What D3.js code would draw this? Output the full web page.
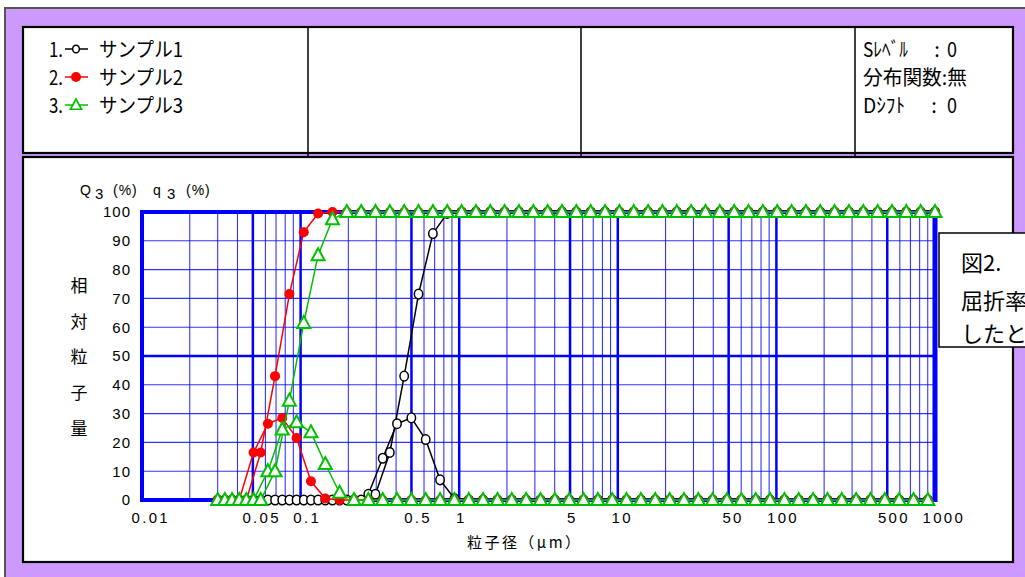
<!DOCTYPE html>
<html><head><meta charset="utf-8">
<script src="https://cdn.jsdelivr.net/npm/d3@7"></script>
<style>body{margin:0;background:#fff;overflow:hidden} svg{display:block}</style>
</head><body><svg id="c" width="1025" height="577"></svg>
<script>
// channel boundaries (µm) – cumulative Q3 is plotted here
const sizes = [0.03,0.03695,0.04550,0.05604,0.06902,0.08500,0.1047,0.1289,0.1588,0.1956,
  0.2408,0.2966,0.3653,0.4499,0.5541,0.6824,0.8404,1.035,1.275,1.570,
  1.933,2.381,2.932,3.611,4.448,5.477,6.746,8.308,10.23,12.60,
  15.52,19.11,23.54,28.99,35.70,43.97,54.15,66.69,82.13,101.1,
  124.6,153.4,188.9,232.7,286.6,352.9,434.7,535.3,659.3,811.9,1000];
// channel centres (µm) – frequency q3 is plotted here
const midSizes = [0.03329,0.04100,0.05050,0.06219,0.07660,0.09433,0.1162,0.1431,0.1762,0.2170,
  0.2673,0.3292,0.4054,0.4993,0.6149,0.7573,0.9326,1.149,1.414,1.742,
  2.145,2.642,3.254,4.008,4.936,6.079,7.486,9.220,11.35,13.98,
  17.22,21.21,26.12,32.17,39.62,48.79,60.09,74.01,91.15,112.3,
  138.2,170.3,209.7,258.2,318.0,391.7,482.4,594.1,731.7,901.1];

const s1Cum = [0,0,0,0,0,0,0,0,0,0,
  0,2,16.5,43,71.5,92.5,99.5,100,100,100,
  100,100,100,100,100,100,100,100,100,100,
  100,100,100,100,100,100,100,100,100,100,
  100,100,100,100,100,100,100,100,100,100,100];
const s1Freq = [0,0,0,0,0,0,0,0,0,0,
  2,14.5,26.5,28.5,21,7,0.5,0,0,0,
  0,0,0,0,0,0,0,0,0,0,
  0,0,0,0,0,0,0,0,0,0,
  0,0,0,0,0,0,0,0,0,0];
const s2Cum = [0,0,0,16.5,43,71.5,93,99.5,100,100,
  100,100,100,100,100,100,100,100,100,100,
  100,100,100,100,100,100,100,100,100,100,
  100,100,100,100,100,100,100,100,100,100,
  100,100,100,100,100,100,100,100,100,100,100];
const s2Freq = [0,0,16.5,26.5,28.5,21.5,6.5,0.5,0,0,
  0,0,0,0,0,0,0,0,0,0,
  0,0,0,0,0,0,0,0,0,0,
  0,0,0,0,0,0,0,0,0,0,
  0,0,0,0,0,0,0,0,0,0];
const s3Cum = [0,0,0,0,10,34.5,61.5,85,97.5,100,
  100,100,100,100,100,100,100,100,100,100,
  100,100,100,100,100,100,100,100,100,100,
  100,100,100,100,100,100,100,100,100,100,
  100,100,100,100,100,100,100,100,100,100,100];
const s3Freq = [0,0,0,10,24.5,27,23.5,12.5,2.5,0,
  0,0,0,0,0,0,0,0,0,0,
  0,0,0,0,0,0,0,0,0,0,
  0,0,0,0,0,0,0,0,0,0,
  0,0,0,0,0,0,0,0,0,0];

const seriesNames = ["サンプル1","サンプル2","サンプル3"];
const xTickValues = [0.01,0.05,0.1,0.5,1,5,10,50,100,500,1000];
const xTickLabels = ["0.01","0.05","0.1","0.5","1","5","10","50","100","500","1000"];
const yTickValues = [0,10,20,30,40,50,60,70,80,90,100];
const yTitleChars = ["相","対","粒","子","量"];
const infoLines = [["Sﾚﾍﾞﾙ",":","0"],["分布関数:無"],["Dｼﾌﾄ",":","0"]];
const captionLines = ["図2.","屈折率","したと"];

const PURPLE = "#cc99ff", BLUE = "#0000ff", RED = "#ff0000", GREEN = "#00c000";
const JP = "'Noto Sans CJK JP','Noto Sans',sans-serif";
const LAT = "'Liberation Sans',Arial,sans-serif";

const svg = d3.select("#c");
svg.append("rect").attr("x",5).attr("y",8).attr("width",1040).attr("height",600)
  .attr("fill",PURPLE).attr("stroke","#555").attr("stroke-width",2);

// header box
svg.append("rect").attr("x",23).attr("y",27).attr("width",990).attr("height",126)
  .attr("fill","#fff").attr("stroke","#000").attr("stroke-width",2.2);
// main box
svg.append("rect").attr("x",23).attr("y",157).attr("width",990).attr("height",405)
  .attr("fill","#fff").attr("stroke","#000").attr("stroke-width",2.2);
[308,581,855].forEach(px => svg.append("line").attr("x1",px).attr("x2",px).attr("y1",27).attr("y2",157)
  .attr("stroke","#000").attr("stroke-width",1.5));

// legend
const markerStyles = [
  {color:"#000", kind:"circle"},
  {color:RED, kind:"dot"},
  {color:GREEN, kind:"tri"}
];
const triPath = "M0,-7L6.5,5L-6.5,5Z";
function drawMarker(g, kind, color, cx, cy, scale) {
  scale = scale || 1;
  if (kind === "circle") {
    g.append("ellipse").attr("cx",cx).attr("cy",cy).attr("rx",4.2*scale).attr("ry",4.8*scale)
      .attr("fill","#fff").attr("stroke",color).attr("stroke-width",1.5);
  } else if (kind === "dot") {
    g.append("circle").attr("cx",cx).attr("cy",cy).attr("r",5*scale).attr("fill",color);
  } else {
    g.append("path").attr("d",triPath).attr("transform",`translate(${cx},${cy}) scale(${scale})`)
      .attr("fill","#fff").attr("stroke",color).attr("stroke-width",2);
  }
}
const legRowY = [49, 77, 105];
const leg = svg.append("g");
seriesNames.forEach((name,i) => {
  const cy = legRowY[i];
  leg.append("text").attr("x",49).attr("y",cy+8).attr("font-family",JP).attr("font-size",20)
    .attr("textLength",14).attr("lengthAdjust","spacingAndGlyphs").text((i+1)+".");
  leg.append("line").attr("x1",65).attr("x2",88).attr("y1",cy).attr("y2",cy)
    .attr("stroke",markerStyles[i].color).attr("stroke-width",1.5);
  drawMarker(leg, markerStyles[i].kind, markerStyles[i].color, 76, cy, i===0?0.8:(i===2?0.85:1));
  leg.append("text").attr("x",99).attr("y",cy+8).attr("font-family",JP).attr("font-size",20)
    .attr("textLength",84).attr("lengthAdjust","spacingAndGlyphs").text(name);
});

// right header info
infoLines.forEach((parts,i) => {
  const by = legRowY[i] + 8;
  if (parts.length === 1) {
    svg.append("text").attr("x",863).attr("y",by).attr("font-family",JP).attr("font-size",20)
      .attr("textLength",104).attr("lengthAdjust","spacingAndGlyphs").text(parts[0]);
  } else {
    svg.append("text").attr("x",863).attr("y",by).attr("font-family",JP).attr("font-size",20)
      .attr("textLength",i===0?45:42).attr("lengthAdjust","spacingAndGlyphs").text(parts[0]);
    svg.append("text").attr("x",i===0?937:934).attr("y",by).attr("font-family",JP).attr("font-size",20)
      .attr("text-anchor","middle").text(parts[1]);
    svg.append("text").attr("x",947).attr("y",by).attr("font-family",JP).attr("font-size",20)
      .attr("textLength",10).attr("lengthAdjust","spacingAndGlyphs").text(parts[2]);
  }
});

// scales
const x = d3.scaleLog().domain([0.01,1000]).range([142,935]);
const y = d3.scaleLinear().domain([0,100]).range([500,212]);

// grid
const grid = svg.append("g");
x.ticks().forEach(v => {
  const lead = Math.round(v / Math.pow(10, Math.floor(Math.log10(v)+1e-9)));
  const thick = (lead === 1 || lead === 5);
  grid.append("line").attr("x1",x(v)).attr("x2",x(v)).attr("y1",y(0)).attr("y2",y(100))
    .attr("stroke",BLUE).attr("stroke-width",thick?2.5:1.1).attr("stroke-opacity",thick?1:0.8);
});
yTickValues.forEach(v => {
  grid.append("line").attr("x1",x(0.01)).attr("x2",x(1000)).attr("y1",y(v)).attr("y2",y(v))
    .attr("stroke",BLUE).attr("stroke-width",v===50?2.5:1.1).attr("stroke-opacity",v===50?1:0.8);
});
grid.append("line").attr("x1",x(0.01)).attr("x2",x(1000)).attr("y1",y(0)).attr("y2",y(0)).attr("stroke",BLUE).attr("stroke-width",4);
grid.append("line").attr("x1",x(0.01)).attr("x2",x(1000)).attr("y1",y(100)).attr("y2",y(100)).attr("stroke",BLUE).attr("stroke-width",4);
grid.append("line").attr("x1",x(0.01)).attr("x2",x(0.01)).attr("y1",y(0)+2).attr("y2",y(100)-2).attr("stroke",BLUE).attr("stroke-width",4);
grid.append("line").attr("x1",x(1000)).attr("x2",x(1000)).attr("y1",y(0)+2).attr("y2",y(100)-2).attr("stroke",BLUE).attr("stroke-width",5);

// axes labels
const xAxis = svg.append("g").attr("transform",`translate(0,${y(0)})`)
  .call(d3.axisBottom(x).tickValues(xTickValues).tickSize(0).tickPadding(12)
    .tickFormat((d,i) => xTickLabels[i]));
xAxis.select(".domain").remove();
xAxis.selectAll("text").attr("font-family",LAT).attr("font-size",15).attr("fill","#000")
  .style("letter-spacing","2.3px")
  .attr("dx",(d,i) => (xTickLabels[i].length*2.2 - 0.5) + "px");

const yAxis = svg.append("g").attr("transform",`translate(${x(0.01)},0)`)
  .call(d3.axisLeft(y).tickValues(yTickValues).tickSize(0).tickPadding(11));
yAxis.select(".domain").remove();
yAxis.selectAll("text").attr("font-family",LAT).attr("font-size",15).attr("fill","#000")
  .style("letter-spacing","1px");

// axis titles
svg.append("text").attr("x",467).attr("y",548).attr("font-family",JP).attr("font-size",15)
  .attr("textLength",113).attr("lengthAdjust","spacing").text("粒子径（μm）");
const yTitleY = [286, 322, 357, 393, 429];
yTitleChars.forEach((ch,i) => svg.append("text").attr("x",79).attr("y",yTitleY[i]+6)
  .attr("text-anchor","middle").attr("font-family",JP).attr("font-size",17).text(ch));

// Q3 q3 header
const qh = svg.append("g").attr("font-family",LAT).attr("font-size",14);
qh.append("text").attr("x",80).attr("y",195).text("Q");
qh.append("text").attr("x",95).attr("y",199).attr("font-size",15).text("3");
qh.append("text").attr("x",113).attr("y",195).style("letter-spacing","1px").text("(%)");
qh.append("text").attr("x",153).attr("y",195).text("q");
qh.append("text").attr("x",167).attr("y",199).attr("font-size",15).text("3");
qh.append("text").attr("x",186).attr("y",195).style("letter-spacing","1px").text("(%)");

// series
const series = [
  {cum:s1Cum, freq:s1Freq, color:"#000", kind:"circle"},
  {cum:s2Cum, freq:s2Freq, color:RED, kind:"dot"},
  {cum:s3Cum, freq:s3Freq, color:GREEN, kind:"tri"}
];
const line = d3.line().x(d => x(d[0])).y(d => y(d[1]));
const plot = svg.append("g");
series.forEach(s => {
  const cumPts = sizes.map((v,i) => [v, s.cum[i]]);
  const freqPts = midSizes.map((v,i) => [v, s.freq[i]]);
  plot.append("path").attr("d",line(cumPts)).attr("fill","none").attr("stroke",s.color).attr("stroke-width",1.5);
  plot.append("path").attr("d",line(freqPts)).attr("fill","none").attr("stroke",s.color).attr("stroke-width",1.5);
  const all = [];
  sizes.forEach((v,i) => { all.push([v, s.cum[i]]); if (i < midSizes.length) all.push([midSizes[i], s.freq[i]]); });
  all.forEach(p => drawMarker(plot, s.kind, s.color, x(p[0]), y(p[1]), 1));
});

// caption box (partially visible, runs off the right edge as in the original)
svg.append("rect").attr("x",939).attr("y",233).attr("width",120).attr("height",114)
  .attr("fill","#fff").attr("stroke","#000").attr("stroke-width",1.5);
const capY = [271, 309, 342];
captionLines.forEach((t,i) => svg.append("text").attr("x",961).attr("y",capY[i])
  .attr("font-family",JP).attr("font-size",22).text(t));
</script></body></html>
